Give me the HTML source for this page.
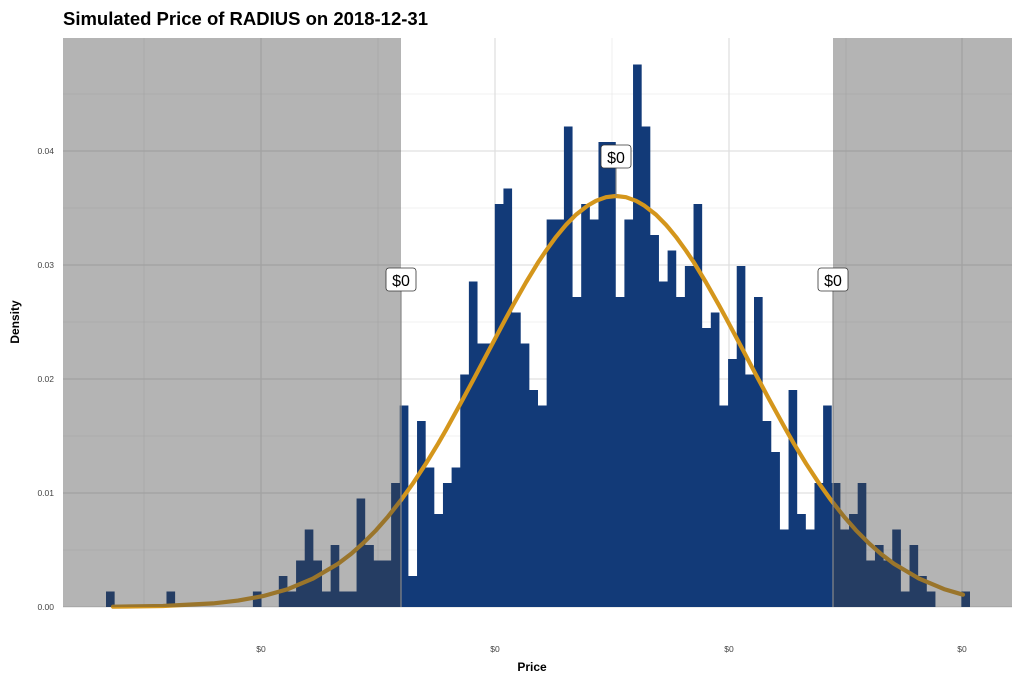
<!DOCTYPE html>
<html><head><meta charset="utf-8"><style>
html,body{margin:0;padding:0;background:#fff;}
svg{display:block;font-family:"Liberation Sans",Arial,sans-serif;}
</style></head><body>
<svg width="1024" height="683" viewBox="0 0 1024 683" xmlns="http://www.w3.org/2000/svg">
<rect width="1024" height="683" fill="#fff"/>
<text x="63" y="25" font-size="18.5" font-weight="bold" fill="#000">Simulated Price of RADIUS on 2018-12-31</text>
<g stroke="#ebebeb" stroke-width="0.8">
<line x1="63" x2="1012" y1="550" y2="550"/><line x1="63" x2="1012" y1="436" y2="436"/><line x1="63" x2="1012" y1="322" y2="322"/><line x1="63" x2="1012" y1="208" y2="208"/><line x1="63" x2="1012" y1="94" y2="94"/>
<line x1="144" x2="144" y1="38" y2="607"/><line x1="378" x2="378" y1="38" y2="607"/><line x1="612" x2="612" y1="38" y2="607"/><line x1="846" x2="846" y1="38" y2="607"/>
</g>
<g stroke="#e0e0e0" stroke-width="1.3">
<line x1="63" x2="1012" y1="607" y2="607"/><line x1="63" x2="1012" y1="493" y2="493"/><line x1="63" x2="1012" y1="379" y2="379"/><line x1="63" x2="1012" y1="265" y2="265"/><line x1="63" x2="1012" y1="151" y2="151"/>
<line x1="261" x2="261" y1="38" y2="607"/><line x1="495" x2="495" y1="38" y2="607"/><line x1="729" x2="729" y1="38" y2="607"/><line x1="962" x2="962" y1="38" y2="607"/>
</g>
<path fill="#123a78" d="M106 607 V591.5 h8.64 V607 h8.64 h8.64 h8.64 h8.64 h8.64 h8.64 V591.5 h8.64 V607 h8.64 h8.64 h8.64 h8.64 h8.64 h8.64 h8.64 h8.64 h8.64 V591.5 h8.64 V607 h8.64 h8.64 V576 h8.64 V591.5 h8.64 V560.5 h8.64 V529.5 h8.64 V560.5 h8.64 V591.5 h8.64 V545 h8.64 V591.5 h8.64 V591.5 h8.64 V498.5 h8.64 V545 h8.64 V560.5 h8.64 V560.5 h8.64 V483 h8.64 V405.5 h8.64 V576 h8.64 V421 h8.64 V467.5 h8.64 V514 h8.64 V483 h8.64 V467.5 h8.64 V374.5 h8.64 V281.5 h8.64 V343.5 h8.64 V343.5 h8.64 V204 h8.64 V188.5 h8.64 V312.5 h8.64 V343.5 h8.64 V390 h8.64 V405.5 h8.64 V219.5 h8.64 V219.5 h8.64 V126.5 h8.64 V297 h8.64 V204 h8.64 V219.5 h8.64 V142 h8.64 V142 h8.64 V297 h8.64 V219.5 h8.64 V64.5 h8.64 V126.5 h8.64 V235 h8.64 V281.5 h8.64 V250.5 h8.64 V297 h8.64 V266 h8.64 V204 h8.64 V328 h8.64 V312.5 h8.64 V405.5 h8.64 V359 h8.64 V266 h8.64 V374.5 h8.64 V297 h8.64 V421 h8.64 V452 h8.64 V529.5 h8.64 V390 h8.64 V514 h8.64 V529.5 h8.64 V483 h8.64 V405.5 h8.64 V483 h8.64 V529.5 h8.64 V514 h8.64 V483 h8.64 V560.5 h8.64 V545 h8.64 V560.5 h8.64 V529.5 h8.64 V591.5 h8.64 V545 h8.64 V576 h8.64 V591.5 h8.64 V607 h8.64 h8.64 h8.64 V591.5 h8.64 V607 Z"/>
<polyline fill="none" stroke="#d4961c" stroke-width="4.2" stroke-linejoin="round" stroke-linecap="round" points="113,606.7 163,606 213,603.4 238,600.6 263,596.1 288,589.1 313,578.6 338,563.8 351,553.9 363,543.3 376,530.3 388,516.6 401,500.1 413,483.3 426,463.5 438,443.8 446,429.9 463,399 476,374.8 488,352 506,318.1 513,305.3 526,282.4 538,262.6 546,250.7 556,236.9 563,228.4 566,224.9 576,214.7 588,205.4 596,200.8 606,197.2 616,196 626,197.2 636,200.8 644,205.4 656,214.7 666,224.9 669,228.4 676,236.9 686,250.7 694,262.6 706,282.4 719,305.3 726,318.1 744,352 756,374.8 769,399 786,429.9 794,443.8 806,463.5 819,483.3 831,500.1 844,516.6 856,530.3 869,543.3 881,553.9 894,563.8 919,578.6 944,589.1 963,594.7"/>
<rect x="63" y="38" width="338" height="569" fill="rgba(67,67,67,0.4)"/>
<rect x="833" y="38" width="179" height="569" fill="rgba(67,67,67,0.4)"/>
<g stroke="#888" stroke-width="1.2">
<line x1="401" x2="401" y1="291" y2="607"/>
<line x1="833" x2="833" y1="291" y2="607"/>
<line x1="616" x2="616" y1="168" y2="196"/>
</g>
<g font-size="16" fill="#000" text-anchor="middle">
<rect x="386" y="268" width="30" height="23" rx="3" fill="#fff" stroke="#333" stroke-width="0.8"/><text x="401" y="286">$0</text>
<rect x="601" y="145" width="30" height="23" rx="3" fill="#fff" stroke="#333" stroke-width="0.8"/><text x="616" y="163">$0</text>
<rect x="818" y="268" width="30" height="23" rx="3" fill="#fff" stroke="#333" stroke-width="0.8"/><text x="833" y="286">$0</text>
</g>
<g font-size="8.5" fill="#444" text-anchor="end">
<text x="54" y="610">0.00</text><text x="54" y="496">0.01</text><text x="54" y="382">0.02</text><text x="54" y="268">0.03</text><text x="54" y="154">0.04</text>
</g>
<g font-size="8.5" fill="#444" text-anchor="middle">
<text x="261" y="652">$0</text><text x="495" y="652">$0</text><text x="729" y="652">$0</text><text x="962" y="652">$0</text>
</g>
<text x="532" y="671" font-size="12" font-weight="bold" text-anchor="middle">Price</text>
<text transform="translate(19,322) rotate(-90)" font-size="12" font-weight="bold" text-anchor="middle">Density</text>
</svg>
</body></html>
